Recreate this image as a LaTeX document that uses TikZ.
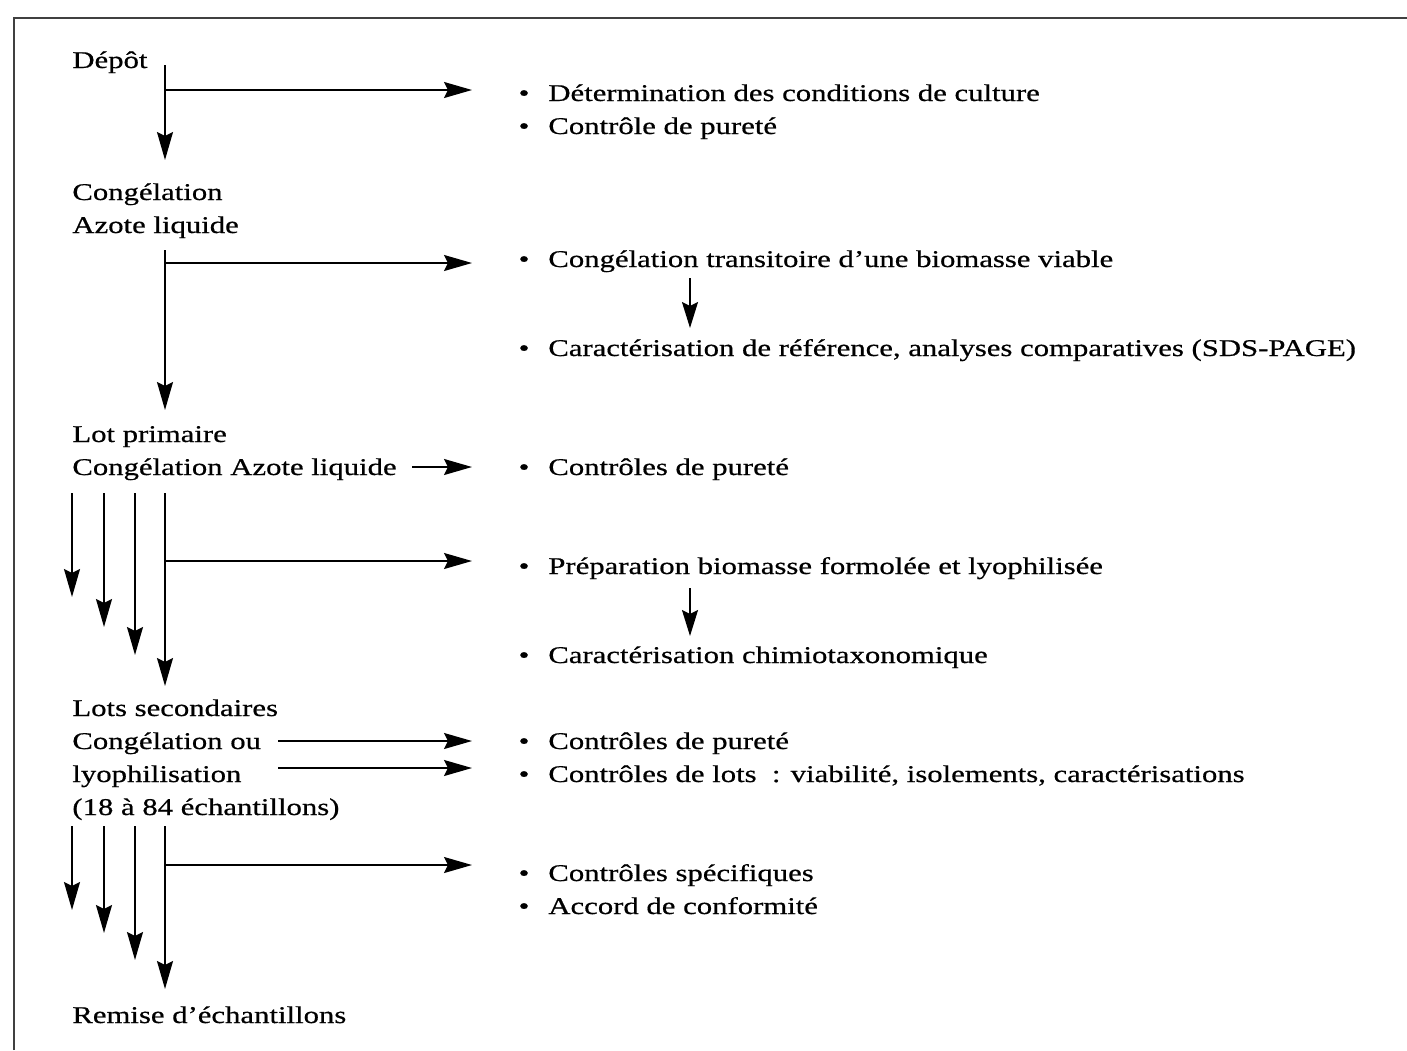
\documentclass[tikz,border=0pt]{standalone}
\usepackage{fontspec}
\setmainfont{Liberation Serif}[FakeStretch=1.28,FakeBold=0.6]
\usetikzlibrary{arrows.meta}
\begin{document}
\begin{tikzpicture}[x=0.5pt,y=-0.5pt,
  lbl/.style={anchor=base west, inner sep=0pt, font=\fontsize{12}{14}\selectfont},
  itm/.style={lbl, execute at begin node={\llap{\textbullet\hspace{9.5pt}}}},
  flow/.style={line width=0.9pt, -{Stealth[length=14pt,width=8pt,inset=2pt]}},
  sflow/.style={line width=0.9pt, -{Stealth[length=13pt,width=8pt,inset=2pt]}},
  frame/.style={line width=1.2pt, draw=black!75}]
\useasboundingbox (0,0) rectangle (1407,1050);
\draw[frame] (14,1050) -- (14,18) -- (1407,18);

% stages of the process (left column)
\node[lbl] (depot)  at (72,68)   {Dépôt};
\node[lbl] (cong1)  at (72,200)  {Congélation};
\node[lbl] (azote1) at (72,233)  {Azote liquide};
\node[lbl] (lotp)   at (72,442)  {Lot primaire};
\node[lbl] (cong2)  at (72,475)  {Congélation Azote liquide};
\node[lbl] (lots)   at (72,716)  {Lots secondaires};
\node[lbl] (cong3)  at (72,749)  {Congélation ou};
\node[lbl] (lyo)    at (72,782)  {lyophilisation};
\node[lbl] (ech)    at (72,815)  {(18 à 84 échantillons)};
\node[lbl] (remise) at (72,1023) {Remise d’échantillons};

% controls (right column)
\node[itm] (det)    at (548,101) {Détermination des conditions de culture};
\node[itm] (pur1)   at (548,134) {Contrôle de pureté};
\node[itm] (trans)  at (548,267) {Congélation transitoire d’une biomasse viable};
\node[itm] (ref)    at (548,356) {Caractérisation de référence, analyses comparatives (SDS-PAGE)};
\node[itm] (pur2)   at (548,475) {Contrôles de pureté};
\node[itm] (prep)   at (548,574) {Préparation biomasse formolée et lyophilisée};
\node[itm] (chim)   at (548,663) {Caractérisation chimiotaxonomique};
\node[itm] (pur3)   at (548,749) {Contrôles de pureté};
\node[itm] (clots)  at (548,782) {Contrôles de lots\ \ : viabilité, isolements, caractérisations};
\node[itm] (spec)   at (548,881) {Contrôles spécifiques};
\node[itm] (accord) at (548,914) {Accord de conformité};

% junction points
\coordinate (s1)  at (165,65);
\coordinate (e1)  at (165,160);
\coordinate (b1)  at (165,90);
\coordinate (t1)  at (472,90);
\coordinate (s2)  at (165,250);
\coordinate (e2)  at (165,410);
\coordinate (b2)  at (165,263);
\coordinate (t2)  at (472,263);
\coordinate (m1s) at (690,278);
\coordinate (m1e) at (690,328);
\coordinate (b3)  at (412,467);
\coordinate (t3)  at (472,467);
\coordinate (b4)  at (165,561);
\coordinate (t4)  at (472,561);
\coordinate (m2s) at (690,588);
\coordinate (m2e) at (690,636);
\coordinate (b5)  at (278,741);
\coordinate (t5)  at (472,741);
\coordinate (b6)  at (278,768);
\coordinate (t6)  at (472,768);
\coordinate (b7)  at (165,865);
\coordinate (t7)  at (472,865);

% main flow
\draw[flow] (s1) -- (e1);
\draw[flow] (b1) -- (t1);
\draw[flow] (s2) -- (e2);
\draw[flow] (b2) -- (t2);
\draw[sflow] (m1s) -- (m1e);
\draw[flow] (b3) -- (t3);

% fan of four arrows to the secondary lots
\foreach \x/\y [count=\i] in {72/597, 104/627, 135/655, 165/686} {
  \coordinate (fa\i) at (\x,493);
  \coordinate (fb\i) at (\x,\y);
  \draw[flow] (fa\i) -- (fb\i);
}
\draw[flow] (b4) -- (t4);
\draw[sflow] (m2s) -- (m2e);
\draw[flow] (b5) -- (t5);
\draw[flow] (b6) -- (t6);

% fan of four arrows to the delivery of samples
\foreach \x/\y [count=\i] in {72/910, 104/933, 135/960, 165/989} {
  \coordinate (ga\i) at (\x,826);
  \coordinate (gb\i) at (\x,\y);
  \draw[flow] (ga\i) -- (gb\i);
}
\draw[flow] (b7) -- (t7);
\end{tikzpicture}
\end{document}
